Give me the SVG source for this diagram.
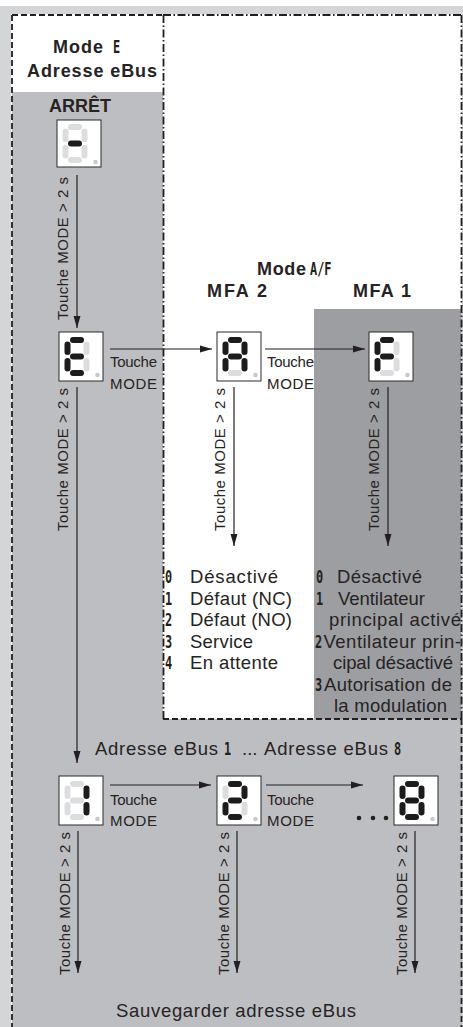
<svg xmlns="http://www.w3.org/2000/svg" width="463" height="1027" viewBox="0 0 463 1027">
<style>
.t{font-family:"Liberation Sans",Arial,Helvetica,sans-serif;fill:#262324}
.s{font-size:15px}
.m{font-size:18.5px}
.b{font-weight:bold;font-size:18px}
.g{font-family:"DejaVu Sans Mono","Liberation Mono",monospace;font-weight:bold;font-size:17px;fill:#231f20}
.box{fill:#fff;stroke:#2a2a2a;stroke-width:1}
.on{fill:#1c1c1c}
.off{fill:#dcdddf}
.dot{fill:#c9cacc}
.ln{stroke:#231f20;stroke-width:1.2;fill:none}
.dash{stroke:#231f20;stroke-width:1.8;fill:none;stroke-dasharray:6 3}
.dd{stroke:#231f20;stroke-width:1.8;fill:none;stroke-dasharray:8 2.5 1.5 2.5}
</style>
<defs>
<marker id="ah" markerUnits="userSpaceOnUse" markerWidth="12" markerHeight="8" refX="12" refY="4" orient="auto"><path d="M0,0.5 L12,4 L0,7.5 z" fill="#231f20"/></marker>
<rect id="sa" x="5.5" y="0" width="14" height="6" rx="3"/>
<rect id="sb" x="19" y="4.5" width="6" height="13.5" rx="3"/>
<rect id="sc" x="19" y="21" width="6" height="13.5" rx="3"/>
<rect id="sd" x="5.5" y="33" width="14" height="6" rx="3"/>
<rect id="se" x="0" y="21" width="6" height="13.5" rx="3"/>
<rect id="sf" x="0" y="4.5" width="6" height="13.5" rx="3"/>
<rect id="sg" x="5.5" y="16.5" width="14" height="6" rx="3"/>
</defs>

<g id="background">
<rect x="0" y="0" width="463" height="1027" fill="#fff"/>
<rect x="0" y="6" width="463" height="1021" fill="#d4d5d7"/>
<rect x="11" y="14" width="451" height="1013" fill="#fff"/>
<rect x="12" y="92" width="151" height="935" fill="#bdbec1"/>
<rect x="12" y="719" width="450" height="308" fill="#bdbec1"/>
<rect x="314" y="309" width="147.5" height="410" fill="#9d9ea1"/>
<line class="dash" x1="12" y1="15" x2="12" y2="1027"/>
<line class="dash" x1="12" y1="15" x2="163" y2="15"/>
<line class="dd" x1="163" y1="15" x2="462" y2="15"/>
<line class="dd" x1="163.5" y1="15" x2="163.5" y2="719"/>
<line class="dd" x1="461.5" y1="15" x2="461.5" y2="719"/>
<line class="dash" x1="461.5" y1="719" x2="461.5" y2="1027"/>
<line class="dash" x1="163" y1="719" x2="462" y2="719"/>
</g>

<g id="hdr-mode-e">
<text class="t b" x="53" y="53" textLength="50">Mode</text>
<text class="g" transform="translate(113,53) scale(0.7,1)">E</text>
<text class="t b" x="92" y="77" text-anchor="middle" textLength="130">Adresse eBus</text>
</g>
<g id="hdr-arret"><text class="t b" x="80" y="112" text-anchor="middle">ARRÊT</text></g>
<g id="hdr-mode-af">
<text class="t b" x="257" y="275" textLength="49">Mode</text>
<text class="g" transform="translate(310,275) scale(0.7,1)">A/F</text>
</g>
<g id="hdr-mfa2"><text class="t b" x="237" y="297" text-anchor="middle" textLength="60">MFA 2</text></g>
<g id="hdr-mfa1"><text class="t b" x="382" y="297" text-anchor="middle" textLength="58">MFA 1</text></g>

<g id="disp-arret" transform="translate(57,120)">
<rect class="box" width="44" height="47"/>
<g transform="translate(5.5,4)"><use href="#sa" class="off"/><use href="#sb" class="off"/><use href="#sc" class="off"/><use href="#sd" class="off"/><use href="#se" class="off"/><use href="#sf" class="off"/><use href="#sg" class="on"/></g>
<circle class="dot" cx="38.5" cy="42" r="2.3"/>
</g>

<g id="disp-e" transform="translate(59,332)">
<rect class="box" width="44" height="49"/>
<g transform="translate(5.5,5)"><use href="#sa" class="on"/><use href="#sb" class="off"/><use href="#sc" class="off"/><use href="#sd" class="on"/><use href="#se" class="on"/><use href="#sf" class="on"/><use href="#sg" class="on"/></g>
<circle class="dot" cx="38.5" cy="43" r="2.3"/>
</g>

<g id="disp-a" transform="translate(217,332)">
<rect class="box" width="44" height="49"/>
<g transform="translate(5.5,5)"><use href="#sa" class="on"/><use href="#sb" class="on"/><use href="#sc" class="on"/><use href="#sd" class="off"/><use href="#se" class="on"/><use href="#sf" class="on"/><use href="#sg" class="on"/></g>
<circle class="dot" cx="38.5" cy="43" r="2.3"/>
</g>

<g id="disp-f" transform="translate(369,332)">
<rect class="box" width="44" height="49"/>
<g transform="translate(5.5,5)"><use href="#sa" class="on"/><use href="#sb" class="off"/><use href="#sc" class="off"/><use href="#sd" class="off"/><use href="#se" class="on"/><use href="#sf" class="on"/><use href="#sg" class="on"/></g>
<circle class="dot" cx="38.5" cy="43" r="2.3"/>
</g>

<g id="disp-1" transform="translate(59,776)">
<rect class="box" width="44" height="49"/>
<g transform="translate(5.5,5)"><use href="#sa" class="off"/><use href="#sb" class="on"/><use href="#sc" class="on"/><use href="#sd" class="off"/><use href="#se" class="off"/><use href="#sf" class="off"/><use href="#sg" class="off"/></g>
<circle class="dot" cx="38.5" cy="43" r="2.3"/>
</g>

<g id="disp-2" transform="translate(217,776)">
<rect class="box" width="44" height="49"/>
<g transform="translate(5.5,5)"><use href="#sa" class="on"/><use href="#sb" class="on"/><use href="#sc" class="off"/><use href="#sd" class="on"/><use href="#se" class="on"/><use href="#sf" class="off"/><use href="#sg" class="on"/></g>
<circle class="dot" cx="38.5" cy="43" r="2.3"/>
</g>

<g id="disp-8" transform="translate(394,776)">
<rect class="box" width="44" height="49"/>
<g transform="translate(5.5,5)"><use href="#sa" class="on"/><use href="#sb" class="on"/><use href="#sc" class="on"/><use href="#sd" class="on"/><use href="#se" class="on"/><use href="#sf" class="on"/><use href="#sg" class="on"/></g>
<circle class="dot" cx="38.5" cy="43" r="2.3"/>
</g>

<g id="list-mfa2">
<text class="g" transform="translate(165,583) scale(0.7,1)">0</text><text class="t m" x="190" y="583" textLength="88">Désactivé</text>
<text class="g" transform="translate(165,604.5) scale(0.7,1)">1</text><text class="t m" x="190" y="604.5" textLength="102">Défaut (NC)</text>
<text class="g" transform="translate(165,626) scale(0.7,1)">2</text><text class="t m" x="190" y="626" textLength="102">Défaut (NO)</text>
<text class="g" transform="translate(165,647.5) scale(0.7,1)">3</text><text class="t m" x="190" y="647.5" textLength="63">Service</text>
<text class="g" transform="translate(165,669) scale(0.7,1)">4</text><text class="t m" x="190" y="669" textLength="88">En attente</text>
</g>

<g id="list-mfa1">
<text class="g" transform="translate(316,583) scale(0.7,1)">0</text><text class="t m" x="337" y="583" textLength="85">Désactivé</text>
<text class="g" transform="translate(316,604.5) scale(0.7,1)">1</text><text class="t m" x="338" y="604.5" textLength="87">Ventilateur</text>
<text class="t m" x="329" y="626" textLength="132">principal activé</text>
<text class="g" transform="translate(315,647.5) scale(0.7,1)">2</text><text class="t m" x="323.5" y="647.5" textLength="137.5">Ventilateur prin-</text>
<text class="t m" x="333" y="669" textLength="120">cipal désactivé</text>
<text class="g" transform="translate(315,690.5) scale(0.7,1)">3</text><text class="t m" x="324" y="690.5" textLength="128">Autorisation de</text>
<text class="t m" x="334" y="712" textLength="113">la modulation</text>
</g>

<g id="lbl-range">
<text class="t m" x="95" y="755" textLength="123">Adresse eBus</text>
<text class="g" transform="translate(224,755) scale(0.7,1)">1</text>
<text class="t m" x="242" y="755">...</text>
<text class="t m" x="264" y="755" textLength="124">Adresse eBus</text>
<text class="g" transform="translate(394,755) scale(0.7,1)">8</text>
</g>

<g id="lbl-save"><text class="t m" x="236" y="1017" text-anchor="middle" textLength="240">Sauvegarder adresse eBus</text></g>

<g id="connectors">
<line class="ln" x1="77" y1="175" x2="77" y2="328" marker-end="url(#ah)"/>
<text class="t s" transform="translate(68,177) rotate(-90)" text-anchor="end" textLength="143">Touche MODE &gt; 2 s</text>

<line class="ln" x1="77" y1="387" x2="77" y2="763" marker-end="url(#ah)"/>
<text class="t s" transform="translate(68,388) rotate(-90)" text-anchor="end" textLength="143">Touche MODE &gt; 2 s</text>

<line class="ln" x1="110" y1="349" x2="212" y2="349" marker-end="url(#ah)"/>
<text class="t s" x="110" y="367" textLength="47">Touche</text>
<text class="t s" x="110" y="389" textLength="47">MODE</text>

<line class="ln" x1="265" y1="349" x2="365" y2="349" marker-end="url(#ah)"/>
<text class="t s" x="267" y="367" textLength="47">Touche</text>
<text class="t s" x="267" y="389" textLength="47">MODE</text>

<line class="ln" x1="234" y1="387" x2="234" y2="546" marker-end="url(#ah)"/>
<text class="t s" transform="translate(225,388) rotate(-90)" text-anchor="end" textLength="143">Touche MODE &gt; 2 s</text>

<line class="ln" x1="388" y1="387" x2="388" y2="546" marker-end="url(#ah)"/>
<text class="t s" transform="translate(379,388) rotate(-90)" text-anchor="end" textLength="143">Touche MODE &gt; 2 s</text>

<line class="ln" x1="110" y1="785" x2="211" y2="785" marker-end="url(#ah)"/>
<text class="t s" x="110" y="805" textLength="47">Touche</text>
<text class="t s" x="110" y="826" textLength="47">MODE</text>

<line class="ln" x1="266" y1="785" x2="363" y2="785" marker-end="url(#ah)"/>
<text class="t s" x="267" y="805" textLength="47">Touche</text>
<text class="t s" x="267" y="826" textLength="47">MODE</text>

<circle cx="359" cy="818" r="2.3" fill="#231f20"/>
<circle cx="373" cy="818" r="2.3" fill="#231f20"/>
<circle cx="386" cy="818" r="2.3" fill="#231f20"/>

<line class="ln" x1="78" y1="831" x2="78" y2="973" marker-end="url(#ah)"/>
<text class="t s" transform="translate(70,975) rotate(-90)" textLength="143">Touche MODE &gt; 2 s</text>

<line class="ln" x1="237" y1="831" x2="237" y2="973" marker-end="url(#ah)"/>
<text class="t s" transform="translate(229,975) rotate(-90)" textLength="143">Touche MODE &gt; 2 s</text>

<line class="ln" x1="415" y1="831" x2="415" y2="973" marker-end="url(#ah)"/>
<text class="t s" transform="translate(407,975) rotate(-90)" textLength="143">Touche MODE &gt; 2 s</text>
</g>
</svg>
